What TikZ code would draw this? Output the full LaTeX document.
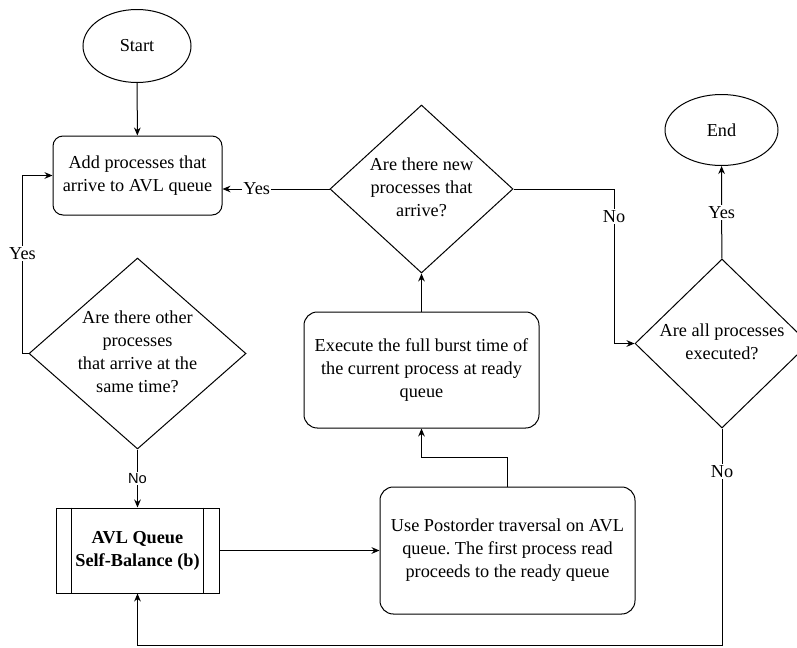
\documentclass[tikz,border=0pt]{standalone}
\usepackage{fontspec}
\setmainfont{Liberation Serif}
\setsansfont{Liberation Sans}
\usetikzlibrary{shapes.geometric,arrows.meta}
\frenchspacing

\begin{document}
\begin{tikzpicture}[x=0.75pt,y=-0.75pt,line width=0.75pt,
    font=\fontsize{13.7}{17.25}\selectfont,
    >={Stealth[length=6pt,width=5pt]},
    terminal/.style={draw,ellipse,inner sep=0pt},
    procbox/.style={draw,rounded corners=7.5pt,align=center,inner sep=0pt},
    decision/.style={draw,diamond,inner sep=0pt},
    qtext/.style={align=center,inner sep=0pt},
    edgelabel/.style={fill=white,inner sep=1pt}]
    \useasboundingbox (0,0) rectangle (797,647);
    \clip (0,0) rectangle (797,647);
    % boxes
    \node[terminal,minimum width=81pt,minimum height=54.75pt] (start) at (137,46) {Start};
    \node[procbox,minimum width=126.75pt,minimum height=59.25pt] (add) at (137.5,175.5) {Add processes that\\arrive to AVL queue};
    \node[decision,minimum width=137.25pt,minimum height=126pt] (newq) at (421.5,189) {};
    \node[qtext] (newqtxt) at (421.5,187) {Are there new\\processes that\\arrive?};
    \node[decision,minimum width=162.75pt,minimum height=143.25pt] (otherq) at (137.5,353.5) {};
    \node[qtext] (otherqtxt) at (137.5,351.5) {Are there other\\processes\\that arrive at the\\same time?};
    \node[draw,align=center,inner sep=0pt,minimum width=122.25pt,minimum height=63.75pt] (avl) at (137.5,550.5) {\textbf{AVL Queue}\\\textbf{Self-Balance (b)}};
    \draw ([xshift=12pt]avl.north west) -- ([xshift=12pt]avl.south west);
    \draw ([xshift=-12pt]avl.north east) -- ([xshift=-12pt]avl.south east);
    \node[procbox,rounded corners=10pt,minimum width=191.25pt,minimum height=95.25pt] (post) at (507.5,550.5) {Use Postorder traversal on AVL\\queue. The first process read\\proceeds to the ready queue};
    \node[procbox,rounded corners=10pt,minimum width=176.25pt,minimum height=87pt] (exec) at (421.5,370) {Execute the full burst time of\\the current process at ready\\queue};
    \node[decision,minimum width=130.5pt,minimum height=126.75pt] (allq) at (722,343.5) {};
    \node[qtext] (allqtxt) at (722,341.5) {Are all processes\\executed?};
    \node[terminal,minimum width=84.75pt,minimum height=53.25pt] (end) at (721.5,130) {End};
    % connectors
    \draw[->] (start) -- (add);
    \coordinate (yesin) at (add.east |- newq.west);
    \draw[->] (newq.west) -- node[edgelabel,pos=0.68] {Yes} (yesin);
    \draw[->] (otherq.west) -- ++(-6,0) |- node[edgelabel,pos=0.28] {Yes} (add.west);
    \draw[->] (otherq) -- node[edgelabel,font=\fontsize{11}{13}\sffamily\selectfont] {No} (avl);
    \draw[->] (avl) -- (post);
    \draw[->] (post.north) -- ++(0,-29) -| (exec.south);
    \draw[->] (exec) -- (newq);
    \coordinate (nocorner) at (614,189);
    \draw[->] (newq.east) -- (nocorner) |- node[edgelabel,pos=0.09] {No} (allq.west);
    \draw[->] (allq) -- node[edgelabel] {Yes} (end);
    \coordinate (bottom) at (722,645);
    \draw[->] (allq.south) -- node[edgelabel,pos=0.2] {No} (bottom) -| (avl.south);
\end{tikzpicture}
\end{document}
